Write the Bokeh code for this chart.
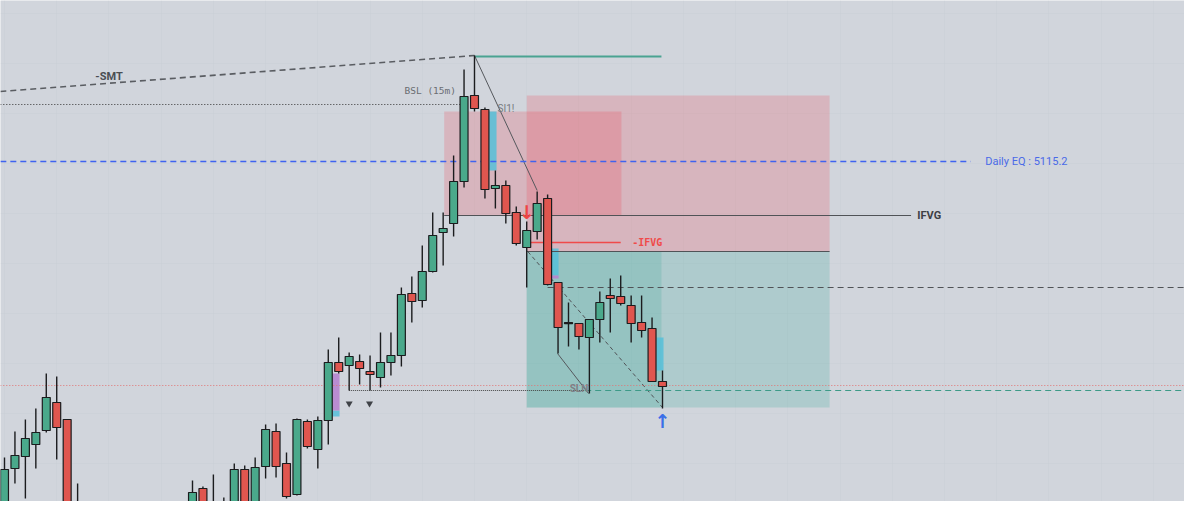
from bokeh.plotting import figure
from bokeh.models import Range1d, FixedTicker
from bokeh.embed import file_html
from bokeh.resources import INLINE
from bokeh.core.properties import value

# ---------------- candle data (bar index = position) ----------------
opens = [5078.3, 5084.5, 5085.7, 5086.9, 5088.3, 5091.1, 5089.4, 5079.9, 5078.8, 5076.3,
         5078.9, 5077.2, 5076.4, 5077.1, 5078.2, 5076.5, 5078.0, 5078.7, 5080.3, 5082.5,
         5080.0, 5079.8, 5078.6, 5084.4, 5079.0, 5084.7, 5088.2, 5085.0, 5081.9, 5089.2,
         5086.4, 5089.3, 5095.1, 5094.8, 5095.2, 5094.2, 5093.6, 5095.1, 5095.8, 5102.0,
         5101.3, 5104.2, 5108.1, 5109.0, 5113.2, 5121.8, 5120.4, 5112.5, 5112.8, 5110.1,
         5106.6, 5108.2, 5111.5, 5103.1, 5099.1, 5099.0, 5097.6, 5099.4, 5101.8, 5101.7,
         5100.8, 5099.1, 5098.5, 5093.2]
highs = [5085.6, 5088.2, 5089.4, 5090.5, 5094.0, 5093.7, 5089.4, 5083.0, 5079.2, 5081.2,
         5080.5, 5078.4, 5077.8, 5078.9, 5079.0, 5078.6, 5079.3, 5081.0, 5083.3, 5082.7,
         5083.9, 5081.6, 5085.0, 5084.8, 5085.6, 5088.9, 5089.0, 5086.1, 5089.5, 5089.4,
         5089.7, 5096.4, 5097.6, 5096.1, 5095.9, 5095.8, 5098.1, 5098.1, 5102.6, 5103.7,
         5106.8, 5110.1, 5110.1, 5115.8, 5124.4, 5125.8, 5120.6, 5114.3, 5113.3, 5110.7,
         5109.2, 5112.2, 5111.9, 5103.1, 5101.1, 5099.0, 5099.4, 5102.2, 5103.5, 5103.8,
         5101.8, 5101.8, 5099.6, 5094.3]
lows = [5077.3, 5083.0, 5081.5, 5084.5, 5088.1, 5085.4, 5079.3, 5078.3, 5075.5, 5075.9,
        5076.2, 5075.8, 5074.9, 5076.3, 5075.8, 5075.6, 5076.9, 5078.0, 5079.2, 5079.8,
        5078.9, 5077.8, 5077.9, 5078.2, 5078.4, 5083.5, 5083.6, 5081.5, 5081.8, 5086.5,
        5084.5, 5086.9, 5094.0, 5092.3, 5092.9, 5092.3, 5092.6, 5093.8, 5094.7, 5099.1,
        5100.6, 5104.1, 5104.8, 5107.7, 5112.6, 5120.2, 5111.5, 5110.5, 5109.0, 5106.8,
        5102.6, 5107.4, 5102.8, 5096.0, 5096.7, 5096.4, 5092.0, 5097.1, 5098.1, 5100.8,
        5097.1, 5097.6, 5093.2, 5090.5]
closes = [5084.4, 5085.8, 5087.5, 5088.1, 5091.6, 5088.6, 5080.4, 5078.8, 5076.2, 5078.9,
          5077.0, 5076.4, 5077.1, 5078.2, 5076.5, 5078.0, 5078.7, 5080.9, 5082.1, 5080.5,
          5080.4, 5078.5, 5084.4, 5078.9, 5084.6, 5088.4, 5084.7, 5081.7, 5089.4, 5086.7,
          5089.3, 5095.1, 5094.2, 5095.7, 5094.5, 5093.9, 5095.1, 5095.8, 5101.9, 5101.2,
          5104.2, 5107.8, 5108.5, 5113.2, 5121.7, 5120.5, 5112.4, 5112.8, 5110.0, 5107.0,
          5108.3, 5111.0, 5102.9, 5098.6, 5099.0, 5097.7, 5099.4, 5101.1, 5101.5, 5101.0,
          5099.0, 5098.3, 5093.2, 5092.7]

# ---------------- annotation levels ----------------
daily_eq = 5115.2
smt_from = (-0.4, 5122.2)
smt_to = (45.0, 5125.8)
bsl_level = 5120.9
bsl_span = (-0.4, 43.7)
peak_level = 5125.7
peak_span = (45.0, 62.9)
peak_leg = ([45.0, 51.0], [5125.8, 5112.3])
ifvg_level = 5109.8
ifvg_span = (42.1, 86.8)
neg_ifvg_level = 5107.1
neg_ifvg_span = (50.3, 59.0)
entry_level = 5106.2
mid_level = 5102.6
mid_span = (52.0, 115.0)
leg_dash = ([50.1, 63.0], [5106.2, 5090.6])
swing_leg = ([52.95, 55.92], [5096.0, 5092.0])
red_dot_level = 5092.8
ssl_level = 5092.3
ssl_dot_span = (33.0, 55.6)
ssl_dash_span = (55.6, 115.0)

# zones: left, right, top, bottom
zone_red_left = [42.1, 59.07, 5120.2, 5109.8]
zone_red_main = [50.0, 79.0, 5121.8, 5106.2]
zone_green_main = [50.0, 79.0, 5106.2, 5090.6]
zone_green_inner = [50.0, 62.9, 5106.2, 5090.6]

cyan_boxes_l = [46.34, 52.37, 62.43, 31.4]
cyan_boxes_r = [47.11, 53.05, 63.10, 32.08]
cyan_boxes_t = [5120.2, 5106.5, 5097.6, 5090.3]
cyan_boxes_b = [5114.3, 5103.8, 5094.3, 5089.7]
purple_boxes_l = [31.4, 52.37]
purple_boxes_r = [32.08, 53.05]
purple_boxes_t = [5094.0, 5103.8]
purple_boxes_b = [5090.3, 5103.5]

tri_x = [33.0, 34.95]
tri_y = [5091.0, 5091.0]

BG = "#d1d5dc"
GREEN = "#4aa98b"
RED = "#e0564f"
PINK = "#f23645"
TEAL = "#089981"

p = figure(width=1184, height=501, x_range=Range1d(-0.383, 112.98),
           y_range=Range1d(5081.2, 5131.3), output_backend="svg",
           toolbar_location=None, min_border=0)
p.axis.visible = False
p.outline_line_color = None
p.background_fill_color = BG
p.border_fill_color = BG
p.xgrid.ticker = FixedTicker(ticks=list(range(-5, 120, 5)))
p.ygrid.ticker = FixedTicker(ticks=[5080 + 5 * k for k in range(12)])
p.grid.grid_line_color = "#c9cdd5"
p.grid.grid_line_alpha = 0.4

# zones
for z, col, a in [(zone_red_left, PINK, 0.2), (zone_red_main, PINK, 0.2),
                  (zone_green_main, TEAL, 0.17), (zone_green_inner, TEAL, 0.15)]:
    p.quad(left=[z[0]], right=[z[1]], top=[z[2]], bottom=[z[3]],
           fill_color=col, fill_alpha=a, line_color=None)

# highlight boxes
p.quad(left=cyan_boxes_l, right=cyan_boxes_r, top=cyan_boxes_t, bottom=cyan_boxes_b,
       fill_color="#56c0d8", fill_alpha=0.85, line_color=None)
p.quad(left=purple_boxes_l, right=purple_boxes_r, top=purple_boxes_t, bottom=purple_boxes_b,
       fill_color="#b584cf", fill_alpha=0.9, line_color=None)

# lines
p.line([smt_from[0], smt_to[0]], [smt_from[1], smt_to[1]], line_color="#5a5d62",
       line_width=1.6, line_dash="6 4")
p.line(list(bsl_span), [bsl_level, bsl_level], line_color="#333333", line_width=1, line_dash="1 2")
p.line(list(peak_span), [peak_level, peak_level], line_color="#4aa391", line_width=2)
p.line(peak_leg[0], peak_leg[1], line_color="#55585d", line_width=1)
p.line([-0.4, 92.5], [daily_eq, daily_eq], line_color="#3f63f0", line_width=1.3, line_dash="6 4")
p.line(list(ifvg_span), [ifvg_level, ifvg_level], line_color="#505357", line_width=1)
p.line(list(neg_ifvg_span), [neg_ifvg_level, neg_ifvg_level], line_color="#f04a4a", line_width=1.6)
p.line([zone_green_main[0], zone_green_main[1]], [entry_level, entry_level], line_color="#505357", line_width=1)
p.line(list(mid_span), [mid_level, mid_level], line_color="#505357", line_width=1, line_dash="6 4")
p.line(leg_dash[0], leg_dash[1], line_color="#505357", line_width=1, line_dash="4 3")
p.line(swing_leg[0], swing_leg[1], line_color="#55585d", line_width=1)
p.line([-0.4, 115.0], [red_dot_level, red_dot_level], line_color="#e07474", line_width=1, line_dash="1 2")
p.line(list(ssl_dot_span), [ssl_level, ssl_level], line_color="#444444", line_width=1, line_dash="1 1")
p.line(list(ssl_dash_span), [ssl_level, ssl_level], line_color="#3d9a88", line_width=1.2, line_dash="6 4")

# candles
idx = list(range(len(opens)))
colors = [GREEN if c >= o else RED for o, c in zip(opens, closes)]
tops = [max(o, c) for o, c in zip(opens, closes)]
bots = [min(o, c) for o, c in zip(opens, closes)]
bots = [b if t - b > 0.12 else t - 0.12 for t, b in zip(tops, bots)]
p.segment(x0=idx, y0=highs, x1=idx, y1=lows, line_color="#1b1c1e", line_width=1.4)
p.vbar(x=idx, width=0.76, top=tops, bottom=bots, fill_color=colors,
       line_color="#1b1c1e", line_width=1.2)

# markers
p.scatter(tri_x, tri_y, marker="inverted_triangle", size=7, fill_color="#3f4247", line_color=None)

# texts
def label(x, y, t, color, size, font, bold=False, align="left"):
    p.text(x=[x], y=[y], text=[t], text_color=color, text_font=value(font),
           text_font_size=size, text_font_style="bold" if bold else "normal",
           text_align=align, text_baseline="middle")

label(8.7, 5123.75, "-SMT", "#4a4d52", "11px", "Roboto", bold=True)
label(38.3, 5122.3, "BSL (15m)", "#6a6d72", "9.5px", "DejaVu Sans Mono")
label(47.2, 5120.5, "SI1!", "#777a80", "10px", "Roboto")
label(93.9, daily_eq, "Daily EQ : 5115.2", "#4a6ae8", "11px", "Roboto")
label(87.4, ifvg_level, "IFVG", "#3d4045", "11px", "Roboto", bold=True)
label(60.1, neg_ifvg_level, "-IFVG", "#f04a4a", "10px", "DejaVu Sans Mono", bold=True)
label(55.0, 5092.5, "SLN", "#7d8086", "10px", "Roboto", bold=True, align="center")
label(50.0, 5110.2, "\u2193", "#ee4444", "19px", "DejaVu Sans", bold=True, align="center")
label(63.0, 5089.3, "\u2191", "#3b6fe8", "19px", "DejaVu Sans", bold=True, align="center")

open("out.html", "w").write(file_html(p, INLINE))
